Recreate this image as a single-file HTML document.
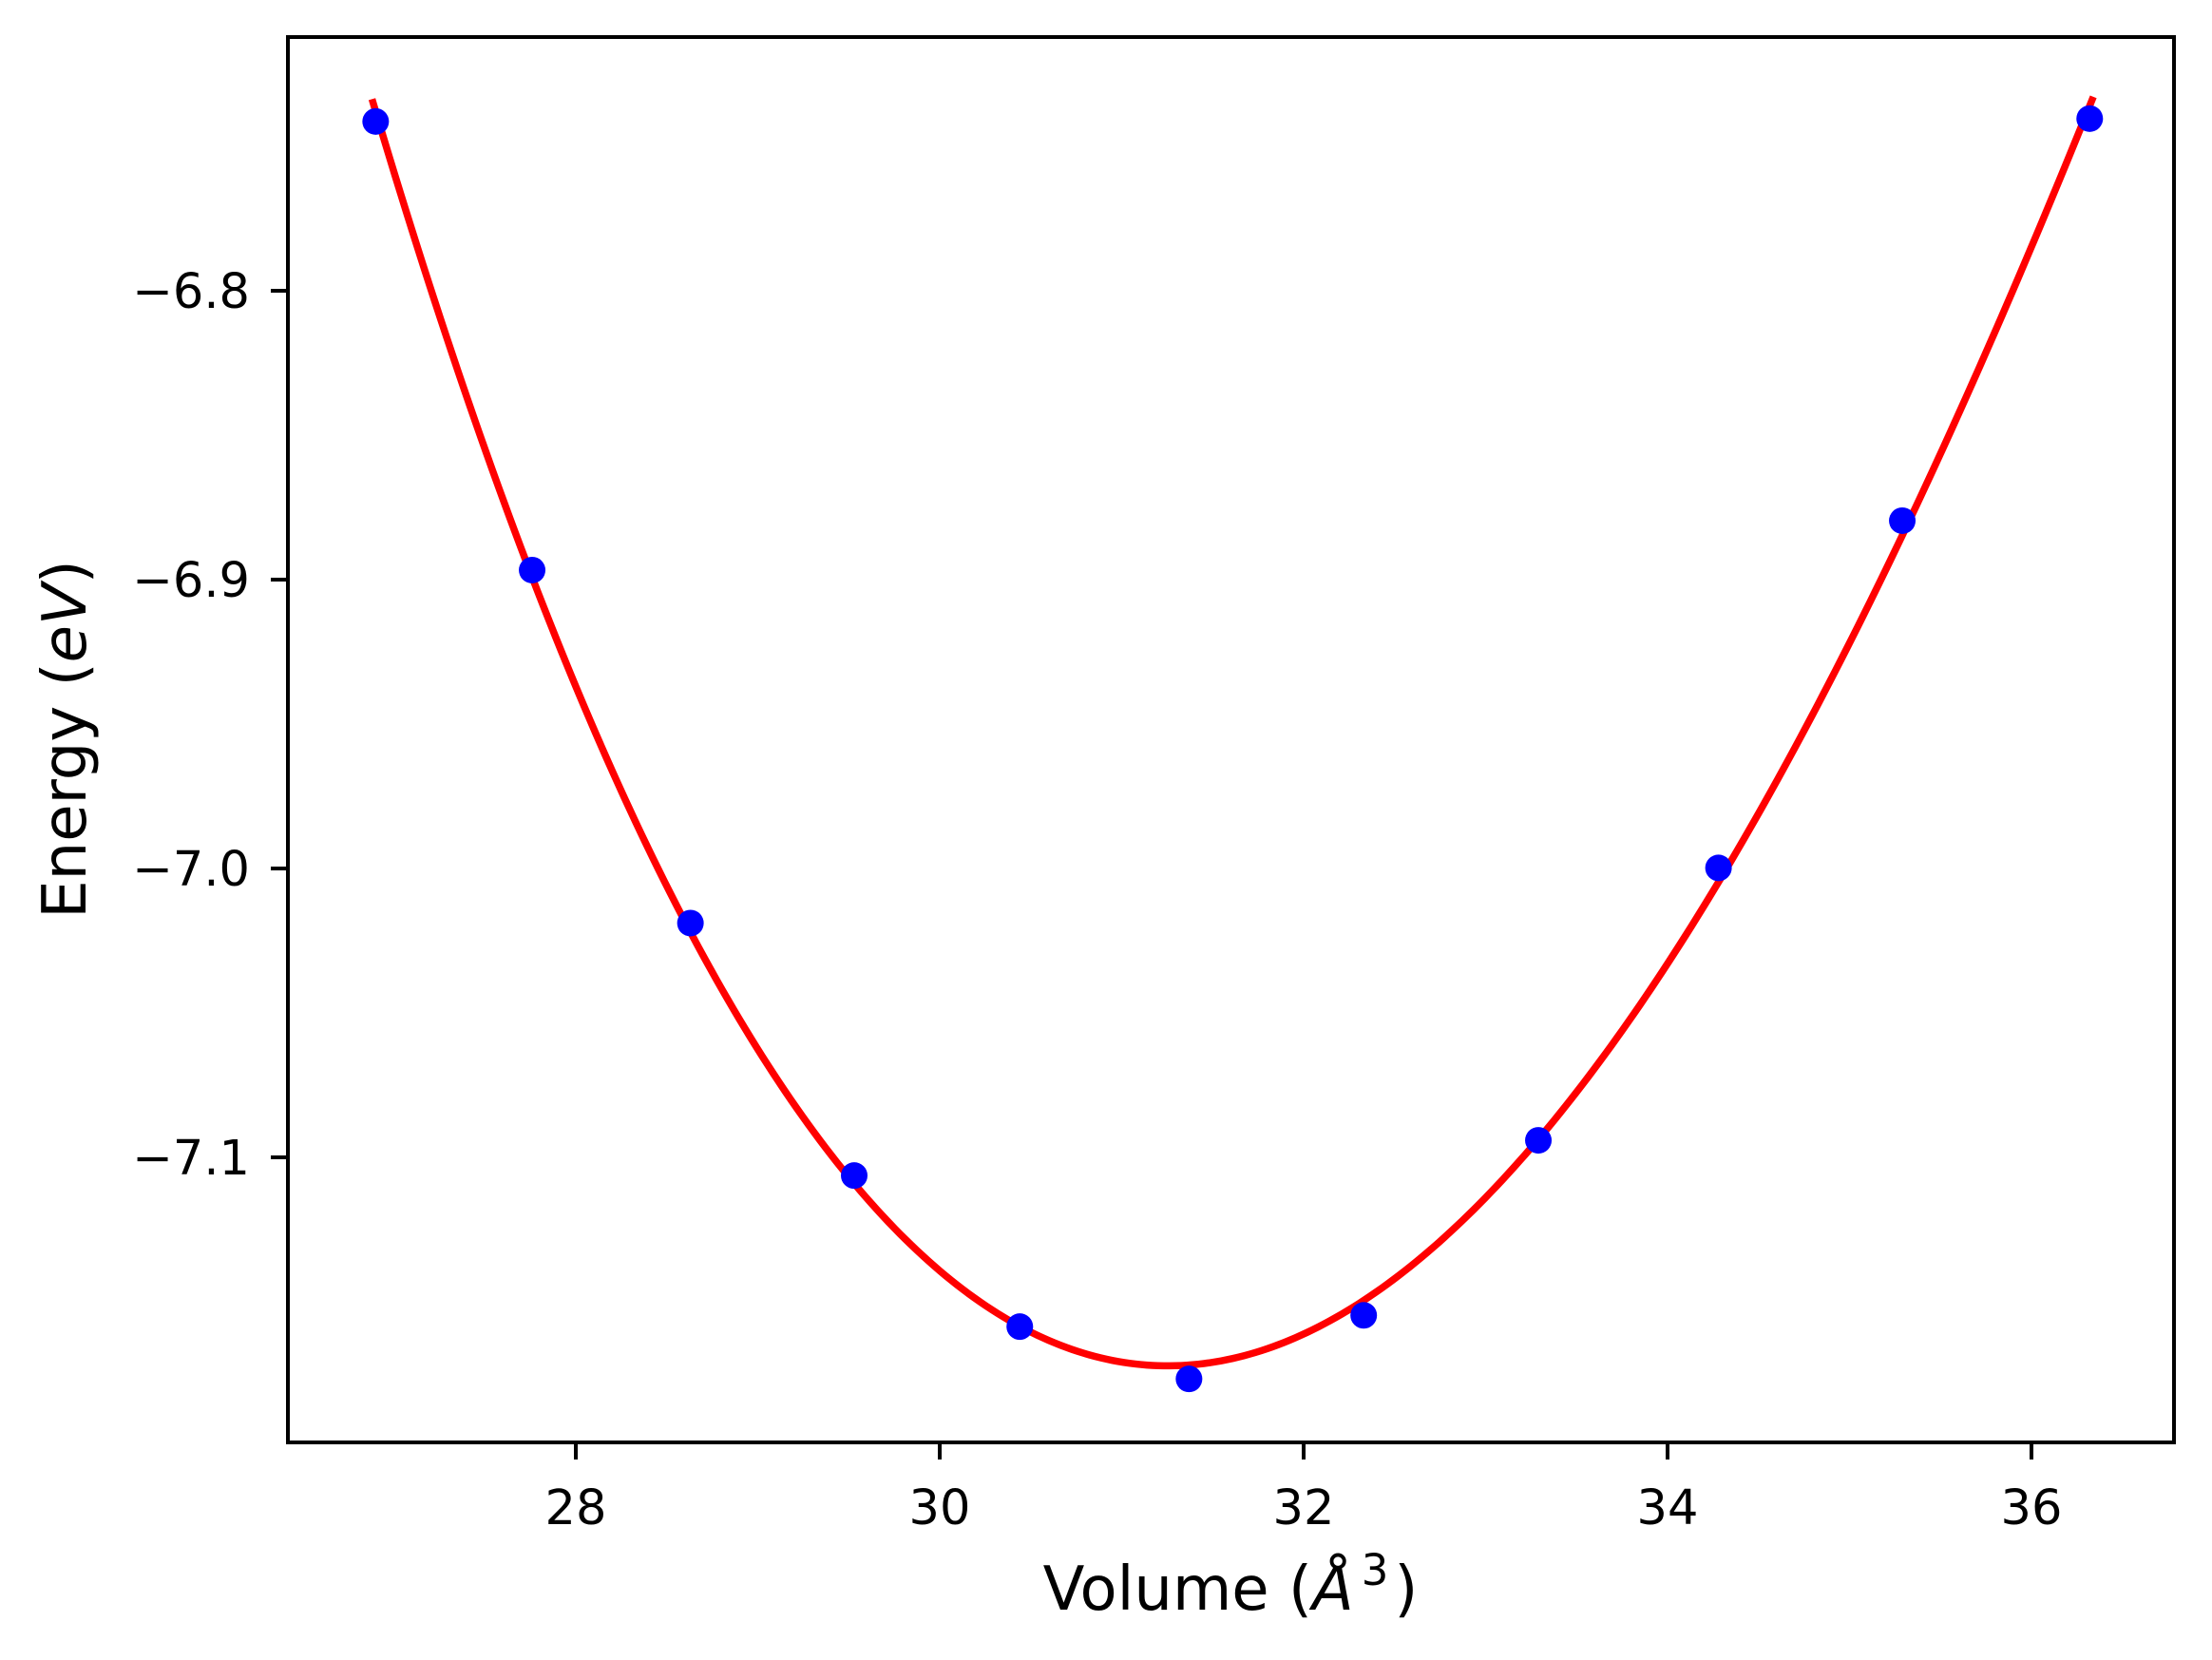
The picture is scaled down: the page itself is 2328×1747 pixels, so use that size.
<!DOCTYPE html>
<html><head><meta charset="utf-8"><style>
html,body{margin:0;padding:0;background:#fff;}
svg{display:block;}
text{font-family:"DejaVu Sans","Liberation Sans",sans-serif;fill:#000;}
</style></head><body>
<svg id="chart" width="2328" height="1747" viewBox="0 0 2328 1747" xmlns="http://www.w3.org/2000/svg">
<rect width="2328" height="1747" fill="#fff"/>
<g id="plot"></g>
<g id="axes"></g>
</svg>
<script>
const volumes = [26.90, 27.76, 28.63, 29.53, 30.44, 31.37, 32.33, 33.29, 34.28, 35.29, 36.32];
const energies = [-6.7414, -6.8967, -7.0189, -7.1063, -7.1586, -7.1767, -7.1547, -7.0941, -6.9998, -6.8796, -6.7404];
const xTicks = [28, 30, 32, 34, 36];
const yTicks = [-6.8, -6.9, -7.0, -7.1];
const xTickLabels = ["28", "30", "32", "34", "36"];
const yTickLabels = ["\u22126.8", "\u22126.9", "\u22127.0", "\u22127.1"];

const L = 303, R = 2288, T = 39, B = 1518;
const xPer = (2138 - 606) / 8;
const sx = v => 606 + (v - 28) * xPer;
const yPer = (1218 - 306) / 0.3;
const sy = e => 306 + (-6.8 - e) * yPer;
const NS = "http://www.w3.org/2000/svg";
function mk(tag, attrs, parent) {
  const el = document.createElementNS(NS, tag);
  for (const k in attrs) el.setAttribute(k, attrs[k]);
  parent.appendChild(el);
  return el;
}
const plot = document.getElementById('plot');
const axes = document.getElementById('axes');

function fit(xs, ys, deg) {
  const n = deg + 1, x0 = 31;
  const A = Array.from({length: n}, () => new Array(n + 1).fill(0));
  xs.forEach((x, i) => {
    const p = []; for (let k = 0; k < n; k++) p.push(Math.pow(x - x0, k));
    for (let r = 0; r < n; r++) { for (let c = 0; c < n; c++) A[r][c] += p[r] * p[c]; A[r][n] += p[r] * ys[i]; }
  });
  for (let i = 0; i < n; i++) {
    let m = i; for (let r = i + 1; r < n; r++) if (Math.abs(A[r][i]) > Math.abs(A[m][i])) m = r;
    [A[i], A[m]] = [A[m], A[i]];
    for (let r = 0; r < n; r++) if (r !== i) { const f = A[r][i] / A[i][i]; for (let c = i; c <= n; c++) A[r][c] -= f * A[i][c]; }
  }
  const co = A.map((row, i) => row[n] / row[i]);
  return x => co.reduce((s, c, k) => s + c * Math.pow(x - x0, k), 0);
}
const f = fit(volumes, energies, 3);
const x0v = volumes[0] - 0.02, x1v = volumes[volumes.length - 1] + 0.02;
let d = '';
for (let i = 0; i <= 300; i++) {
  const v = x0v + (x1v - x0v) * i / 300;
  d += (i ? 'L' : 'M') + sx(v).toFixed(2) + ' ' + sy(f(v)).toFixed(2);
}
const curve = mk('path', {d: d, fill: 'none', stroke: '#ff0000', 'stroke-width': 7.5}, plot);



volumes.forEach((v, i) => {
  const c = mk('circle', {cx: sx(v), cy: sy(energies[i]), r: 14, fill: '#0000ff'}, plot);
  
  
});

const frame = mk('rect', {x: L, y: T, width: R - L, height: B - T, fill: 'none', stroke: '#000', 'stroke-width': 4}, axes);



xTicks.forEach((t, i) => {
  const x = sx(t);
  const tk = mk('line', {x1: x, x2: x, y1: B, y2: B + 18, stroke: '#000', 'stroke-width': 4}, axes);
  
  
  const tx = mk('text', {x: x, y: B + 86, 'font-size': 51, 'text-anchor': 'middle'}, axes);
  tx.textContent = xTickLabels[i];
  
  
});
yTicks.forEach((t, i) => {
  const y = sy(t);
  const tk = mk('line', {x1: L - 18, x2: L, y1: y, y2: y, stroke: '#000', 'stroke-width': 4}, axes);
  
  
  const tx = mk('text', {x: 263, y: y + 18, 'font-size': 51, 'text-anchor': 'end'}, axes);
  tx.textContent = yTickLabels[i];
  
  
});
</script>
<svg style="position:absolute;left:0;top:0" width="2328" height="1747" xmlns="http://www.w3.org/2000/svg">
<text x="1295" y="1694" font-size="64" text-anchor="middle">Volume (<tspan font-style="italic">Å</tspan><tspan font-size="45" dx="8" dy="-26">3</tspan><tspan dx="6" dy="26">)</tspan></text>
<text transform="translate(90,778) rotate(-90)" font-size="64" text-anchor="middle">Energy (<tspan font-style="italic">eV</tspan>)</text>
</svg>
</body></html>
